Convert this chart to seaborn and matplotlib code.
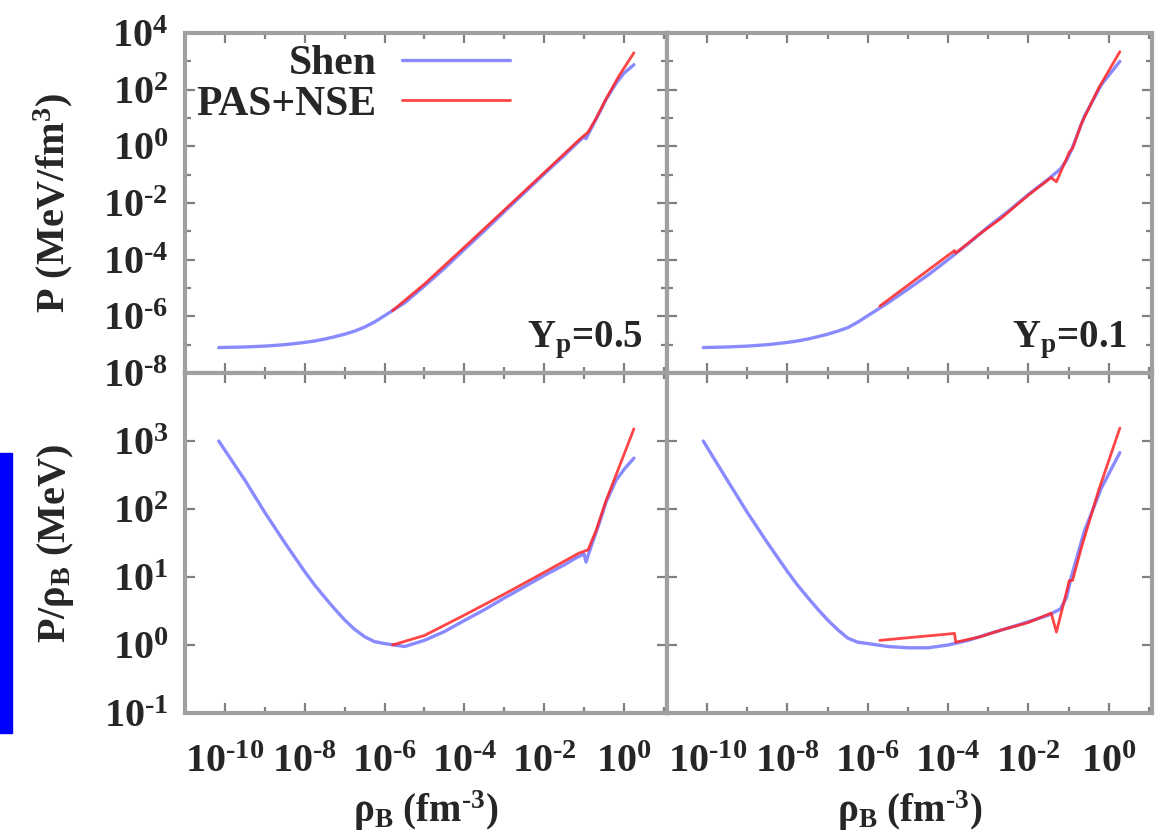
import numpy as np
import matplotlib
matplotlib.use("Agg")
import matplotlib.pyplot as plt
import matplotlib.ticker as mticker
from matplotlib.patches import Rectangle
import seaborn as sns

sns.set_style("ticks")
plt.rcParams['font.family'] = ['Liberation Serif', 'DejaVu Serif']
plt.rcParams['font.weight'] = 'bold'
plt.rcParams['mathtext.fontset'] = 'custom'
plt.rcParams['mathtext.rm'] = 'Liberation Serif:bold'
plt.rcParams['mathtext.it'] = 'Liberation Serif:italic:bold'
plt.rcParams['mathtext.bf'] = 'Liberation Serif:bold'
plt.rcParams['mathtext.default'] = 'rm'

# ---- Yp = 0.5 ----
rho_shen_05 = [7.0e-11, 3.2e-10, 1.0e-9, 3.2e-9, 1.0e-8, 1.78e-8, 3.2e-8, 5.6e-8,
               1.0e-7, 1.78e-7, 3.2e-7, 5.6e-7, 1.0e-6, 3.2e-6, 1.0e-5, 3.2e-5,
               1.0e-4, 3.2e-4, 1.0e-3, 3.2e-3, 1.0e-2, 3.2e-2, 6.3e-2, 0.100,
               0.112, 0.141, 0.25, 0.355, 0.63, 1.0, 1.78]
p_shen_05 = [7.9e-8, 8.3e-8, 8.9e-8, 1.0e-7, 1.2e-7, 1.35e-7, 1.58e-7, 1.9e-7,
             2.34e-7, 3.0e-7, 4.2e-7, 6.3e-7, 1.05e-6, 3.0e-6, 1.17e-5, 5.0e-5,
             2.29e-4, 1.05e-3, 4.9e-3, 2.3e-2, 0.105, 0.48, 1.2, 2.19,
             1.86, 3.55, 16.6, 44.7, 166, 380, 760]
ratio_shen_05 = [1000, 263, 89, 31.6, 12.0, 7.6, 5.0, 3.4,
                 2.34, 1.70, 1.32, 1.12, 1.05, 0.95, 1.17, 1.58,
                 2.29, 3.31, 4.9, 7.2, 10.5, 15.1, 19.1, 21.9,
                 16.6, 25.1, 66, 126, 263, 380, 560]

rho_pas_05 = [1.58e-6, 1.0e-5, 1.0e-4, 1.0e-3, 1.0e-2, 7.4e-2, 0.126, 0.2, 0.355, 0.74, 1.78]
p_pas_05 = [1.58e-6, 1.38e-5, 2.75e-4, 5.6e-3, 0.117, 1.66, 3.16, 9.6, 47, 296, 2000]
ratio_pas_05 = [1.0, 1.38, 2.75, 5.6, 11.7, 22.4, 25.1, 48, 132, 400, 1510]

# ---- Yp = 0.1 ----
rho_shen_01 = [8.0e-11, 3.2e-10, 1.0e-9, 3.2e-9, 1.0e-8, 1.78e-8, 3.2e-8, 5.6e-8,
               1.0e-7, 1.78e-7, 3.2e-7, 5.6e-7, 1.0e-6, 3.2e-6, 1.0e-5, 3.2e-5,
               1.0e-4, 3.2e-4, 1.0e-3, 3.2e-3, 1.0e-2, 3.2e-2, 6.3e-2, 8.9e-2,
               0.117, 0.25, 0.66, 1.9]
p_shen_01 = [7.9e-8, 8.3e-8, 8.9e-8, 1.0e-7, 1.2e-7, 1.35e-7, 1.58e-7, 1.9e-7,
             2.34e-7, 3.0e-7, 4.0e-7, 6.2e-7, 1.05e-6, 3.0e-6, 9.1e-6, 2.9e-5,
             1.0e-4, 3.7e-4, 1.45e-3, 5.2e-3, 2.0e-2, 7.1e-2, 0.16, 0.32,
             0.71, 11.7, 151, 1000]
ratio_shen_01 = [1000, 263, 89, 31.6, 12.0, 7.6, 5.0, 3.4,
                 2.34, 1.68, 1.26, 1.10, 1.05, 0.95, 0.91, 0.91,
                 1.0, 1.17, 1.45, 1.78, 2.2, 2.75, 3.4, 5.0,
                 10.0, 48, 204, 676]

rho_pas_01 = [2.0e-6, 1.45e-4, 1.55e-4, 6.3e-4, 2.1e-3, 1.0e-2, 3.7e-2, 5.0e-2,
              0.105, 0.126, 0.209, 0.56, 1.9]
p_pas_01 = [2.3e-6, 2.1e-4, 1.7e-4, 8.3e-4, 2.9e-3, 1.9e-2, 7.9e-2, 5.6e-2,
            0.63, 0.85, 6.3, 112, 2200]
ratio_pas_01 = [1.17, 1.48, 1.1, 1.32, 1.66, 2.14, 2.95, 1.55,
                8.9, 8.9, 27, 186, 1550]

panel_text = ['0.5', '0.1']
x_major = [1e-10, 1e-8, 1e-6, 1e-4, 1e-2, 1e0]
x_minor = [1e-11, 1e-9, 1e-7, 1e-5, 1e-3, 1e-1, 1e1]
p_major = [1e-8, 1e-6, 1e-4, 1e-2, 1e0, 1e2, 1e4]
p_minor = [1e-7, 1e-5, 1e-3, 1e-1, 1e1, 1e3]
r_major = [1e-1, 1e0, 1e1, 1e2, 1e3]

blue = '#8a8aff'
red = '#ff2424'
gray = '#a0a0a0'
fs_tick = 29
fs_lab = 28
fs_ylab = 29
fs_leg = 30


def pow10(v, _):
    e = int(round(np.log10(v)))
    if e < 0:
        return r'$10^{\text{-%d}}$' % (-e)
    return r'$10^{%d}$' % e


fig = plt.figure(figsize=(11.6, 8.38), dpi=100)
W, H = 1160, 838


def pos(x0, x1, y0, y1):
    return [x0 / W, 1 - y1 / H, (x1 - x0) / W, (y1 - y0) / H]


axes = {
    (0, 0): fig.add_axes(pos(185, 667, 33, 373)),
    (0, 1): fig.add_axes(pos(667, 1152, 33, 373)),
    (1, 0): fig.add_axes(pos(185, 667, 373, 713)),
    (1, 1): fig.add_axes(pos(667, 1152, 373, 713)),
}

data = [
    (rho_shen_05, p_shen_05, ratio_shen_05, rho_pas_05, p_pas_05, ratio_pas_05),
    (rho_shen_01, p_shen_01, ratio_shen_01, rho_pas_01, p_pas_01, ratio_pas_01),
]

for col in range(2):
    rs, ps, qs, rp, pp, qp = data[col]
    for row in range(2):
        ax = axes[(row, col)]
        ys = ps if row == 0 else qs
        yp = pp if row == 0 else qp
        sns.lineplot(x=rs, y=ys, ax=ax, color=blue, lw=2.4, sort=False,
                     estimator=None, label='Shen')
        sns.lineplot(x=rp, y=yp, ax=ax, color=red, lw=2.0, alpha=0.85, sort=False,
                     estimator=None, label='PAS+NSE')
        ax.set_xscale('log')
        ax.set_yscale('log')
        ax.set_xlim(1e-11, 12)
        ax.xaxis.set_major_locator(mticker.FixedLocator(x_major))
        ax.xaxis.set_minor_locator(mticker.FixedLocator(x_minor))
        ax.xaxis.set_minor_formatter(mticker.NullFormatter())
        if row == 0:
            ax.set_ylim(1e-8, 1e4)
            ax.yaxis.set_major_locator(mticker.FixedLocator(p_major))
            ax.yaxis.set_minor_locator(mticker.FixedLocator(p_minor))
        else:
            ax.set_ylim(1e-1, 1e4)
            ax.yaxis.set_major_locator(mticker.FixedLocator(r_major))
            ax.yaxis.set_minor_locator(mticker.LogLocator(base=10, subs=np.arange(2, 10)))
        ax.yaxis.set_major_formatter(mticker.FuncFormatter(pow10))
        ax.xaxis.set_major_formatter(mticker.FuncFormatter(pow10))
        ax.yaxis.set_minor_formatter(mticker.NullFormatter())
        ax.tick_params(which='both', direction='in', top=True, right=True,
                       color='#808080', width=1.6, labelsize=fs_tick)
        ax.tick_params(which='major', length=7)
        ax.tick_params(which='minor', length=4)
        ax.tick_params(axis='y', pad=12)
        ax.tick_params(axis='x', pad=22)
        for s in ax.spines.values():
            s.set_color(gray)
            s.set_linewidth(3)
        if row == 0:
            ax.tick_params(labelbottom=False)
        if col == 1:
            ax.tick_params(labelleft=False)
        if ax.get_legend() is not None:
            ax.get_legend().remove()
        ax.set_xlabel('')
        ax.set_ylabel('')
        if row == 0:
            ax.text(0.95, 0.075, r'$\mathrm{Y_p}$=' + panel_text[col], transform=ax.transAxes,
                    ha='right', va='baseline', fontsize=fs_lab, fontweight='bold')
        else:
            ax.set_xlabel(r'$\rho_B$ (fm$^{\text{-3}}$)', fontsize=fs_lab,
                          fontweight='bold', labelpad=6)

axes[(0, 0)].set_ylabel(r'P (MeV/fm$^3$)', fontsize=fs_ylab, fontweight='bold', labelpad=20)
axes[(1, 0)].set_ylabel(r'P/$\rho_B$ (MeV)', fontsize=fs_ylab, fontweight='bold', labelpad=20)

h, l = axes[(0, 0)].get_legend_handles_labels()
axes[(0, 0)].legend(h, l, loc='upper right', bbox_to_anchor=(0.735, 1.05), frameon=False,
                    markerfirst=False, handlelength=2.6, handletextpad=0.6, borderpad=0.2,
                    labelspacing=0.05, prop={'size': fs_leg, 'weight': 'bold'})

fig.patches.append(Rectangle((0, 1 - 733 / H), 12 / W, 280 / H,
                             transform=fig.transFigure, color='#0000ff'))

fig.savefig('out.png', dpi=100)
